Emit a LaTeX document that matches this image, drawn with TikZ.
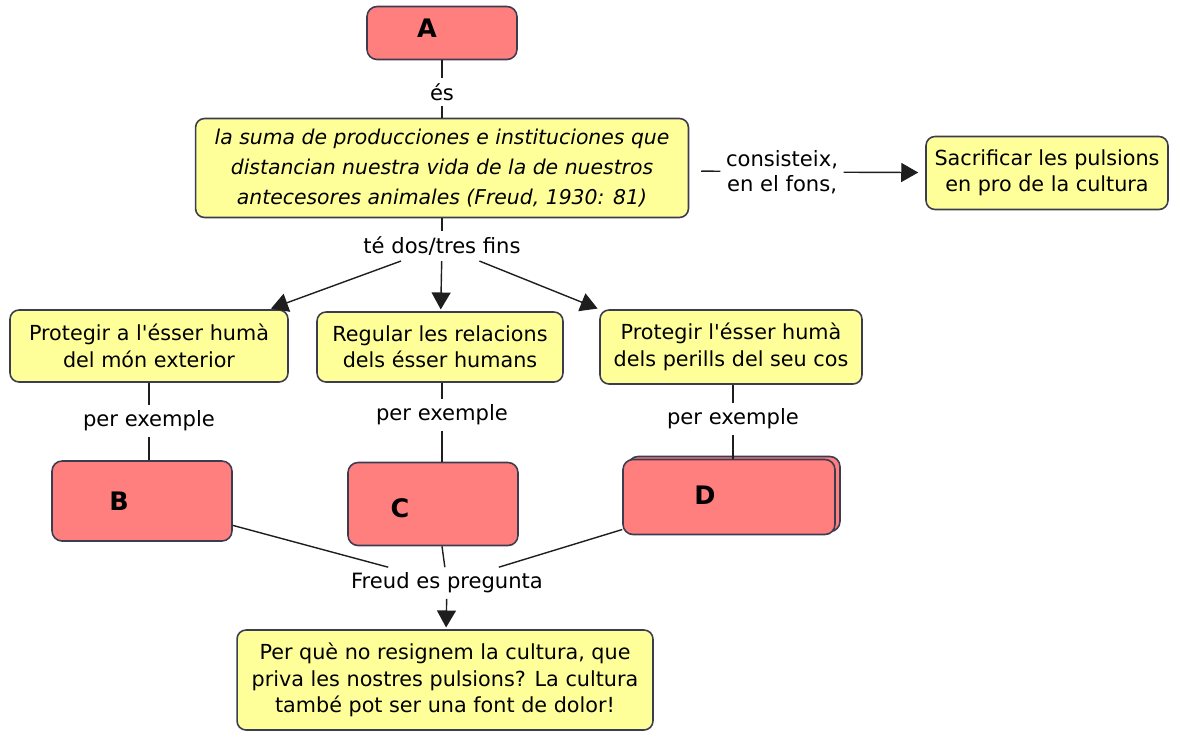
\documentclass[tikz,border=0pt]{standalone}
\usepackage{fontspec}
\setmainfont{DejaVu Sans}
\usetikzlibrary{arrows.meta}
\usetikzlibrary{shadows}
\definecolor{boxyellow}{RGB}{255,255,153}
\definecolor{boxred}{RGB}{255,126,126}
\definecolor{boxline}{RGB}{60,60,80}
\definecolor{linkline}{RGB}{30,30,30}

\begin{document}
\begin{tikzpicture}[x=0.02cm,y=-0.02cm,
	concept/.style={draw=boxline,line width=0.9pt,fill=boxyellow,rounded corners=0.18cm,align=center,font=\fontsize{11.8}{15}\selectfont},
	example/.style={draw=boxline,line width=0.9pt,fill=boxred,rounded corners=0.2cm},
	letter/.style={font=\fontsize{14.5}{14.5}\selectfont\bfseries},
	link/.style={font=\fontsize{12}{14.5}\selectfont,inner sep=3pt},
	conn/.style={draw=linkline,line width=0.8pt},
	arr/.style={-{Triangle[length=0.34cm,width=0.38cm]},shorten >=1pt}]
	\useasboundingbox (0,0) rectangle (1183,731);
	\draw (442,33) node (a) [example,minimum width=3cm,minimum height=1.06cm,label={[letter,xshift=-0.3cm,yshift=0.1cm]center:A}] {};
	\draw (442,92) node (es) [link] {és};
	\draw (442,168) node (cult) [concept,minimum width=9.86cm,minimum height=1.98cm,font=\fontsize{11.6}{17}\selectfont\itshape] {la suma de producciones e instituciones que\\distancian nuestra vida de la de nuestros\\antecesores animales (Freud, 1930: 81)};
	\draw (782,172) node (cons) [link,align=center] {consisteix,\\en el fons,};
	\draw (1047,173) node (sacr) [concept,minimum width=4.84cm,minimum height=1.46cm] {Sacrificar les pulsions\\en pro de la cultura};
	\draw (442,246) node (fins) [link] {té dos/tres fins};
	\draw (149,346) node (p1) [concept,minimum width=5.56cm,minimum height=1.44cm] {Protegir a l\textquotesingle ésser humà\\del món exterior};
	\draw (440,347) node (p2) [concept,minimum width=4.92cm,minimum height=1.4cm] {Regular les relacions\\dels ésser humans};
	\draw (731,347) node (p3) [concept,minimum width=5.24cm,minimum height=1.48cm] {Protegir l\textquotesingle ésser humà\\dels perills del seu cos};
	\draw (149,421) node (ex1) [link] {per exemple};
	\draw (442,415) node (ex2) [link] {per exemple};
	\draw (733,419) node (ex3) [link] {per exemple};
	\draw (142,501) node (b) [example,minimum width=3.6cm,minimum height=1.6cm,label={[letter,xshift=-0.46cm]center:B}] {};
	\draw (433,504) node (c) [example,minimum width=3.4cm,minimum height=1.66cm,label={[letter,xshift=-0.66cm,yshift=-0.08cm]center:C}] {};
	\draw (729,497) node (d) [example,minimum width=4.24cm,minimum height=1.5cm,copy shadow={shadow xshift=0.1cm,shadow yshift=0.06cm},label={[letter,xshift=-0.48cm,yshift=0.04cm]center:D}] {};
	\draw (447,583) node (fr) [link] {Freud es pregunta};
	\draw (445,680) node (q) [concept,minimum width=8.32cm,minimum height=2cm] {Per què no resignem la cultura, que\\priva les nostres pulsions? La cultura\\també pot ser una font de dolor!};
	\draw[conn] (a) -- (es);
	\draw[conn] (es) -- (cult);
	\draw[conn,shorten <=0.24cm] (cult) -- (cons);
	\draw[conn,arr,shorten >=0.14cm] (cons) -- (sacr);
	\draw[conn] (cult) -- (fins);
	\draw[conn,arr] (fins) -- (p1.17);
	\draw[conn,arr] (fins) -- (p2);
	\draw[conn,arr] (fins) -- (p3.164);
	\draw[conn] (p1) -- (ex1);
	\draw[conn] (ex1) -- (b.north -| ex1);
	\draw[conn] (p2.south -| ex2) -- (ex2);
	\draw[conn] (ex2) -- (c.north -| ex2);
	\draw[conn] (p3.south -| ex3) -- (ex3);
	\draw[conn] (ex3) -- (d.north -| ex3);
	\draw[conn] (b) -- (fr);
	\draw[conn] (c.south -| ex2) -- (fr);
	\draw[conn] (d) -- (fr);
	\draw[conn,arr] (fr) -- (q);
\end{tikzpicture}
\end{document}
